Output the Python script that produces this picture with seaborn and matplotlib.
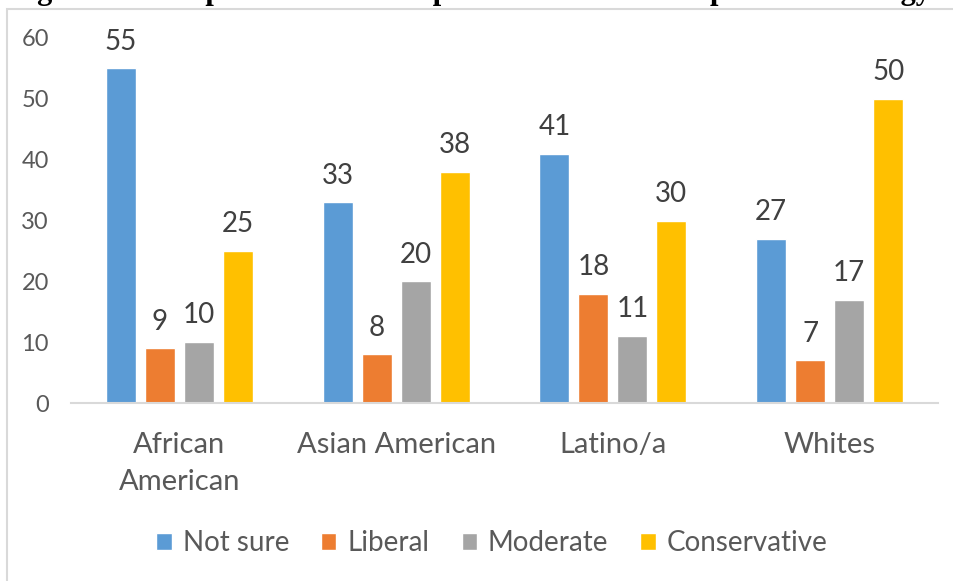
import matplotlib
matplotlib.use("Agg")
import matplotlib.pyplot as plt
from matplotlib.patches import Rectangle
import seaborn as sns
import pandas as pd

# Survey groups and the share (%) choosing each ideology label
groups = ["African\nAmerican", "Asian American", "Latino/a", "Whites"]
answers = ["Not sure", "Liberal", "Moderate", "Conservative"]
not_sure = [55, 33, 41, 27]
liberal = [9, 8, 18, 7]
moderate = [10, 20, 11, 17]
conservative = [25, 38, 30, 50]
y_ticks = [0, 10, 20, 30, 40, 50, 60]

colors = ["#5B9BD5", "#ED7D31", "#A5A5A5", "#FFC000"]
title = "Figure 3: Group views on the Republican candidate's political ideology"

rows = []
for series, name in zip([not_sure, liberal, moderate, conservative], answers):
    for g, v in zip(groups, series):
        rows.append({"group": g, "answer": name, "pct": v})
df = pd.DataFrame(rows)

sns.set_theme(style="white")
plt.rcParams["font.family"] = ["Lato", "DejaVu Sans"]

W, H = 954, 581
fig = plt.figure(figsize=(W / 100, H / 100), dpi=100)
ax = fig.add_axes([71 / W, 1 - 403 / H, (938 - 71) / W, (403 - 38) / H])

sns.barplot(data=df, x="group", y="pct", hue="answer", order=groups,
            hue_order=answers, palette=colors, width=0.72, gap=0.23,
            saturation=1, ax=ax, legend=True)

# value labels above each bar
for cont in ax.containers:
    for bar in cont:
        h = bar.get_height()
        ax.annotate(f"{h:.0f}", (bar.get_x() + bar.get_width() / 2, h),
                    xytext=(0, 13.5), textcoords="offset points",
                    ha="center", va="baseline", fontsize=20,
                    color="#404040", clip_on=False)

ax.set_xlim(-0.5, 3.5)
ax.set_ylim(0, 60)
ax.set_yticks(y_ticks)
ax.set_xlabel("")
ax.set_ylabel("")
ax.tick_params(axis="y", length=0, pad=16, labelsize=17, labelcolor="#595959")
ax.tick_params(axis="x", length=0, pad=21, labelsize=21, labelcolor="#595959")
for lbl in ax.get_xticklabels():
    lbl.set_linespacing(1.5)
for side in ["left", "right", "top"]:
    ax.spines[side].set_visible(False)
ax.spines["bottom"].set_color("#D9D9D9")
ax.spines["bottom"].set_linewidth(1.5)
ax.grid(False)

handles, labels = ax.get_legend_handles_labels()
ax.get_legend().remove()
fig.legend(handles, labels, loc="center", bbox_to_anchor=(492 / W, 1 - 543 / H),
           ncol=4, frameon=False, fontsize=20, handlelength=0.55,
           handleheight=0.55, handletextpad=0.4, columnspacing=1.15,
           labelcolor="#595959")

# chart frame
fig.patches.append(Rectangle((7 / W, -0.1), 1.2, 1.1 - 9 / H,
                             transform=fig.transFigure, fill=False,
                             edgecolor="#D9D9D9", linewidth=1.5, zorder=0))

# document caption above the chart
fig.text(10 / W, 1 + 1 / H, title, ha="left", va="baseline",
         fontsize=22, fontweight="bold", family=["Liberation Serif"],
         color="black")

fig.savefig("out.png", dpi=100, facecolor="white")
